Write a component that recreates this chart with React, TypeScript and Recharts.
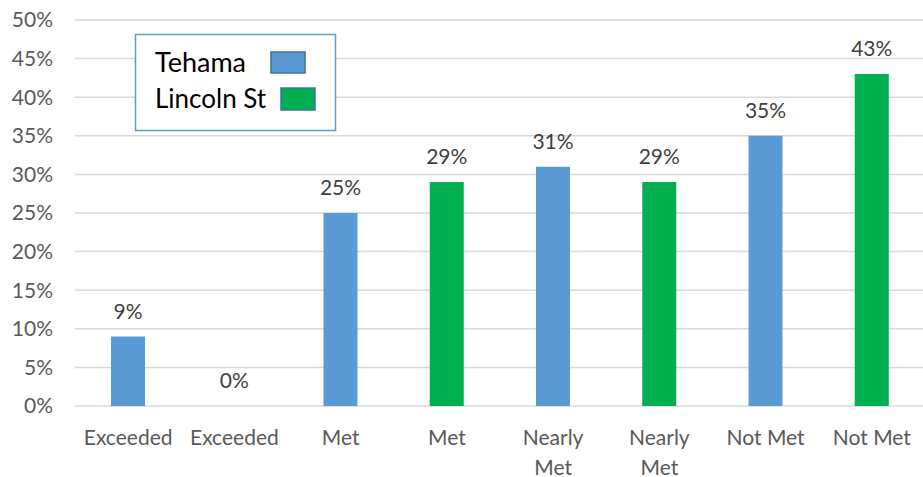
import { Bar, BarChart, CartesianGrid, Cell, LabelList, XAxis, YAxis } from "recharts";

const categories = ["Exceeded", "Exceeded", "Met", "Met", "Nearly Met", "Nearly Met", "Not Met", "Not Met"];
const schools = ["Tehama", "Lincoln St", "Tehama", "Lincoln St", "Tehama", "Lincoln St", "Tehama", "Lincoln St"];
const percents = [9, 0, 25, 29, 31, 29, 35, 43];
const yTicks = [0, 5, 10, 15, 20, 25, 30, 35, 40, 45, 50];

const schoolColors: Record<string, string> = {
  Tehama: "#5B9BD5",
  "Lincoln St": "#00B050",
};

const FONT = "Lato, 'Open Sans', sans-serif";

const rows = categories.map((label, i) => ({
  label,
  school: schools[i],
  value: percents[i],
}));

// splits two-word labels that are too wide for one line
function CategoryTick({ x, y, payload }: any) {
  const text: string = payload.value;
  const lines = text.length > 8 ? text.split(" ") : [text];
  return (
    <text x={x} y={y} textAnchor="middle" fill="#595959" fontSize={21} fontFamily={FONT}>
      {lines.map((line, i) => (
        <tspan key={i} x={x} dy={i === 0 ? 39 : 30}>
          {line}
        </tspan>
      ))}
    </text>
  );
}

// value label above the bar, drawn for zero-height bars too
function ValueLabel({ x, y, width, value }: any) {
  return (
    <text x={Number(x) + Number(width) / 2} y={Number(y) - 18} textAnchor="middle" fill="#404040" fontSize={21} fontFamily={FONT}>
      {`${value}%`}
    </text>
  );
}

export default function App() {
  return (
    <div style={{ position: "absolute", left: 0, top: 0, width: 923, height: 477, overflow: "hidden", background: "#fff" }}>
      <BarChart width={925} height={477} data={rows} margin={{ top: 20, right: 0, bottom: 0, left: 0 }} barSize={34}>
        <CartesianGrid vertical={false} stroke="#D9D9D9" strokeWidth={1.5} />
        <XAxis
          dataKey="label"
          height={71}
          axisLine={false}
          tickLine={false}
          tickSize={0}
          tickMargin={0}
          interval={0}
          tick={<CategoryTick />}
        />
        <YAxis
          width={75}
          domain={[0, 50]}
          ticks={yTicks}
          tickFormatter={(v) => `${v}%`}
          axisLine={false}
          tickLine={false}
          tickSize={0}
          tickMargin={22}
          tick={{ fill: "#595959", fontSize: 21, fontFamily: FONT }}
        />
        <Bar dataKey="value" isAnimationActive={false} minPointSize={0.01}>
          {rows.map((r, i) => (
            <Cell key={i} fill={schoolColors[r.school]} />
          ))}
          <LabelList dataKey="value" content={<ValueLabel />} />
        </Bar>
      </BarChart>
      <svg width={923} height={477} style={{ position: "absolute", left: 0, top: 0, pointerEvents: "none" }}>
        <rect x={135.5} y={34.5} width={200} height={96} fill="#fff" stroke="#5B9BD5" strokeWidth={1.5} />
        <text x={155} y={72} fontSize={27} fontFamily={FONT} fill="#000">Tehama</text>
        <rect x={271} y={52} width={34} height={21} fill={schoolColors.Tehama} stroke="#41719C" strokeWidth={1.5} />
        <text x={155} y={108} fontSize={26} fontFamily={FONT} fill="#000">Lincoln St</text>
        <rect x={281} y={88} width={34} height={22} fill={schoolColors["Lincoln St"]} stroke="#41719C" strokeWidth={1.5} />
      </svg>
    </div>
  );
}
